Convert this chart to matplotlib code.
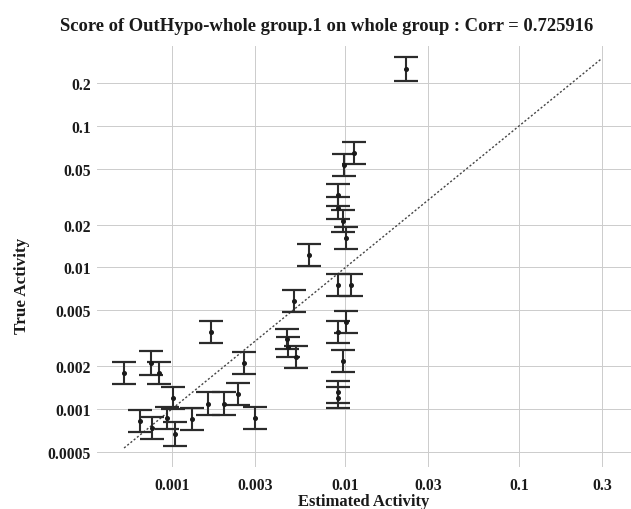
import matplotlib
matplotlib.use("Agg")
import matplotlib.pyplot as plt
import matplotlib.ticker as mticker
import numpy as np

# ── Data ──────────────────────────────────────────────────────────────────────
estimated = [
    0.000529, 0.000757, 0.000841, 0.00101, 0.000654, 0.000767, 0.000936,
    0.00104, 0.00130, 0.00161, 0.00199, 0.00240, 0.00301, 0.00168, 0.00260,
    0.00460, 0.00466, 0.00518, 0.00505, 0.00616, 0.00905, 0.01076, 0.01007,
    0.00905, 0.00967, 0.00905, 0.00905, 0.00905, 0.00905, 0.00967, 0.01007,
    0.0098, 0.0112, 0.0223,
]
true_act = [
    0.00180, 0.00211, 0.00180, 0.00120, 0.000823, 0.000734, 0.000864,
    0.000666, 0.000850, 0.00109, 0.00109, 0.00128, 0.000864, 0.00350, 0.00211,
    0.00312, 0.00274, 0.00233, 0.00580, 0.01225, 0.00752, 0.00752, 0.00412,
    0.00350, 0.00218, 0.00132, 0.00120, 0.0325, 0.0263, 0.0213, 0.0162,
    0.0530, 0.0644, 0.253,
]
# multiplicative error (bar spans true/f .. true*f)
err_factor = [
    1.20, 1.21, 1.20, 1.20, 1.20, 1.20, 1.20,
    1.21, 1.20, 1.20, 1.20, 1.20, 1.20, 1.20, 1.20,
    1.18, 1.18, 1.19, 1.19, 1.20, 1.20, 1.20, 1.20,
    1.19, 1.20, 1.19, 1.19, 1.19, 1.19, 1.19, 1.20,
    1.20, 1.20, 1.21,
]
diag = [0.00053, 0.3]

x_ticks = [0.001, 0.003, 0.01, 0.03, 0.1, 0.3]
x_labels = ["0.001", "0.003", "0.01", "0.03", "0.1", "0.3"]
y_ticks = [0.0005, 0.001, 0.002, 0.005, 0.01, 0.02, 0.05, 0.1, 0.2]
y_labels = ["0.0005", "0.001", "0.002", "0.005", "0.01", "0.02", "0.05", "0.1", "0.2"]

TITLE = "Score of OutHypo-whole group.1 on whole group : Corr = 0.725916"

# ── Style ─────────────────────────────────────────────────────────────────────
plt.rcParams["font.family"] = ["Liberation Serif", "DejaVu Serif"]
plt.rcParams["font.weight"] = "bold"

INK = "#1a1a1a"
BAR = "#2b2b2b"
GRID = "#cccccc"

fig = plt.figure(figsize=(6.31, 5.10), dpi=100)
fig.patch.set_facecolor("white")
ax = fig.add_axes([0.1537, 0.0824, 0.8463, 0.8254])

y = np.array(true_act)
f = np.array(err_factor)
yerr = np.vstack([y - y / f, y * f - y])

ax.errorbar(estimated, true_act, yerr=yerr, fmt="o", color=INK,
            ecolor=BAR, elinewidth=1.5, capsize=8.3, capthick=1.6,
            markersize=2.6, zorder=3)

ax.plot(diag, diag, color="#444444", linestyle=(0, (1.5, 1.5)),
        linewidth=1.0, zorder=2)

ax.set_xscale("log")
ax.set_yscale("log")
ax.set_xlim(0.000370, 0.442)
ax.set_ylim(0.000389, 0.3675)

ax.xaxis.set_major_locator(mticker.FixedLocator(x_ticks))
ax.xaxis.set_major_formatter(mticker.FixedFormatter(x_labels))
ax.yaxis.set_major_locator(mticker.FixedLocator(y_ticks))
ax.yaxis.set_major_formatter(mticker.FixedFormatter(y_labels))
ax.xaxis.set_minor_locator(mticker.NullLocator())
ax.yaxis.set_minor_locator(mticker.NullLocator())

ax.tick_params(axis="both", length=0, labelsize=11.3, colors=INK)
ax.tick_params(axis="x", pad=7)
ax.tick_params(axis="y", pad=4.5)
for lbl in ax.get_xticklabels() + ax.get_yticklabels():
    lbl.set_fontweight("bold")

ax.grid(True, color=GRID, linewidth=0.7, zorder=0)
for spine in ax.spines.values():
    spine.set_visible(False)

ax.set_xlabel("Estimated Activity", fontsize=12, fontweight="bold",
              color=INK, labelpad=0)
ax.set_ylabel("True Activity", fontsize=12.3, fontweight="bold", color=INK)
ax.yaxis.set_label_coords(-0.125, 0.432)

fig.text(0.518, 0.949, TITLE, ha="center", va="center", fontsize=13.4,
         fontweight="bold", color=INK)

fig.savefig("out.png", dpi=100, facecolor="white")
plt.close("all")
